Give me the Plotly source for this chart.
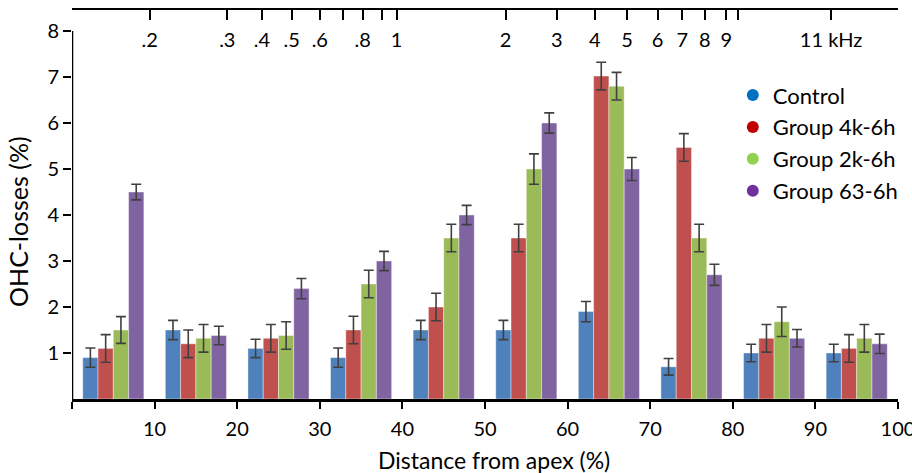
import plotly.graph_objects as go

positions = [5, 15, 25, 35, 45, 55, 65, 75, 85, 95]
series_names = ["Control", "Group 4k-6h", "Group 2k-6h", "Group 63-6h"]
control = [0.9, 1.5, 1.1, 0.9, 1.5, 1.5, 1.9, 0.7, 1.0, 1.0]
control_err = [0.21, 0.21, 0.2, 0.21, 0.21, 0.21, 0.22, 0.18, 0.19, 0.19]
g4k = [1.1, 1.2, 1.32, 1.5, 2.0, 3.5, 7.02, 5.47, 1.32, 1.1]
g4k_err = [0.3, 0.3, 0.3, 0.3, 0.3, 0.3, 0.3, 0.3, 0.3, 0.3]
g2k = [1.5, 1.32, 1.38, 2.5, 3.5, 5.0, 6.8, 3.5, 1.68, 1.32]
g2k_err = [0.29, 0.3, 0.3, 0.3, 0.3, 0.33, 0.3, 0.3, 0.32, 0.3]
g63 = [4.5, 1.38, 2.4, 3.0, 4.0, 6.0, 5.0, 2.7, 1.32, 1.2]
g63_err = [0.17, 0.2, 0.22, 0.21, 0.21, 0.22, 0.25, 0.23, 0.19, 0.21]

bar_colors = ["#4F81BD", "#C0504D", "#9BBB59", "#8064A2"]
legend_colors = ["#0070C0", "#C00000", "#92D050", "#7030A0"]

x_ticks = [0, 10, 20, 30, 40, 50, 60, 70, 80, 90, 100]
x_ticktext = ["", "10", "20", "30", "40", "50", "60", "70", "80", "90", "100"]
y_ticks = [1, 2, 3, 4, 5, 6, 7, 8]

freq_pos = [0, 9.4, 18.8, 23.0, 26.6, 30.0, 32.8, 35.2, 37.5, 39.3,
            52.5, 58.7, 63.3, 67.2, 70.9, 73.9, 76.6, 79.2, 80.6, 91.9, 100]
freq_text = ["", ".2", ".3", ".4", ".5", ".6", "", ".8", "", "1",
             "2", "3", "4", "5", "6", "7", "8", "9", "", "11 kHz", ""]

x_title = "Distance from apex (%)"
y_title = "OHC-losses (%)"

FONT = "Lato, Open Sans, sans-serif"

fig = go.Figure()
data = [(control, control_err), (g4k, g4k_err), (g2k, g2k_err), (g63, g63_err)]
for name, (vals, errs), col in zip(series_names, data, bar_colors):
    fig.add_trace(go.Bar(
        x=positions, y=vals, name=name, showlegend=False,
        marker=dict(color=col, line=dict(color="rgba(255,255,255,0.5)", width=0.8)),
        error_y=dict(type="data", array=errs, visible=True, color="#404040",
                     thickness=1.6, width=5),
    ))

legend_ids = ["legend", "legend2", "legend3", "legend4"]
for name, col, lid in zip(series_names, legend_colors, legend_ids):
    fig.add_trace(go.Scatter(
        x=[None], y=[None], mode="markers", name=name, legend=lid,
        marker=dict(symbol="circle", size=18, color=col),
    ))

# helper traces for top axes
for ax in ["x2", "x3"]:
    fig.add_trace(go.Scatter(x=[0, 100], y=[0, 0], xaxis=ax, mode="markers",
                             marker=dict(opacity=0), showlegend=False,
                             hoverinfo="skip"))

legend_rows = [0.781, 0.699, 0.617, 0.535]
legend_layout = {}
for lid, ly in zip(legend_ids, legend_rows):
    legend_layout[lid] = dict(x=0.80, y=ly, xanchor="left", yanchor="middle",
                              bgcolor="rgba(0,0,0,0)", font=dict(size=22),
                              itemsizing="constant")

fig.update_layout(
    width=912, height=473,
    margin=dict(l=72, r=14, t=10, b=74, autoexpand=False),
    paper_bgcolor="white", plot_bgcolor="white",
    barmode="group", bargap=0.26, bargroupgap=0,
    font=dict(family=FONT, size=20, color="black"),
    xaxis=dict(range=[0, 100], tickvals=x_ticks, ticktext=x_ticktext,
               showline=True, linecolor="black", linewidth=2.5,
               ticks="outside", ticklen=7, tickwidth=2, tickcolor="black",
               showgrid=False, zeroline=False, tickfont=dict(size=20),
               ticklabeloverflow="allow", ticklabelstandoff=3,
               automargin=False),
    xaxis2=dict(range=[0, 100], overlaying="x", side="top", anchor="y",
                tickvals=freq_pos, showticklabels=False,
                showline=True, linecolor="black", linewidth=2,
                ticks="inside", ticklen=10, tickwidth=2, tickcolor="black",
                showgrid=False, zeroline=False, automargin=False),
    xaxis3=dict(range=[0, 100], overlaying="x", side="bottom", anchor="free",
                position=0.958, tickvals=freq_pos, ticktext=freq_text,
                showline=False, ticks="", showgrid=False, zeroline=False,
                tickfont=dict(size=20), automargin=False),
    yaxis=dict(range=[0, 8.457], tickvals=y_ticks, showline=False,
               ticks="outside", ticklen=8, tickwidth=2, tickcolor="black",
               showgrid=False, zeroline=False, tickfont=dict(size=20),
               automargin=False),
    shapes=[dict(type="line", xref="x", yref="y", x0=0, x1=0, y0=0, y1=8,
                 line=dict(color="black", width=2.5))],
    annotations=[
        dict(text=x_title, xref="paper", yref="paper", x=0.511, y=-0.157,
             xanchor="center", yanchor="middle", showarrow=False,
             font=dict(size=23)),
        dict(text=y_title, xref="paper", yref="paper", x=-0.0654, y=0.4576,
             xanchor="center", yanchor="middle", showarrow=False,
             textangle=-90, font=dict(size=25)),
    ],
    **legend_layout,
)

fig.write_html("out.html", post_script="document.body.style.margin='0';",
               config={"displayModeBar": False})
